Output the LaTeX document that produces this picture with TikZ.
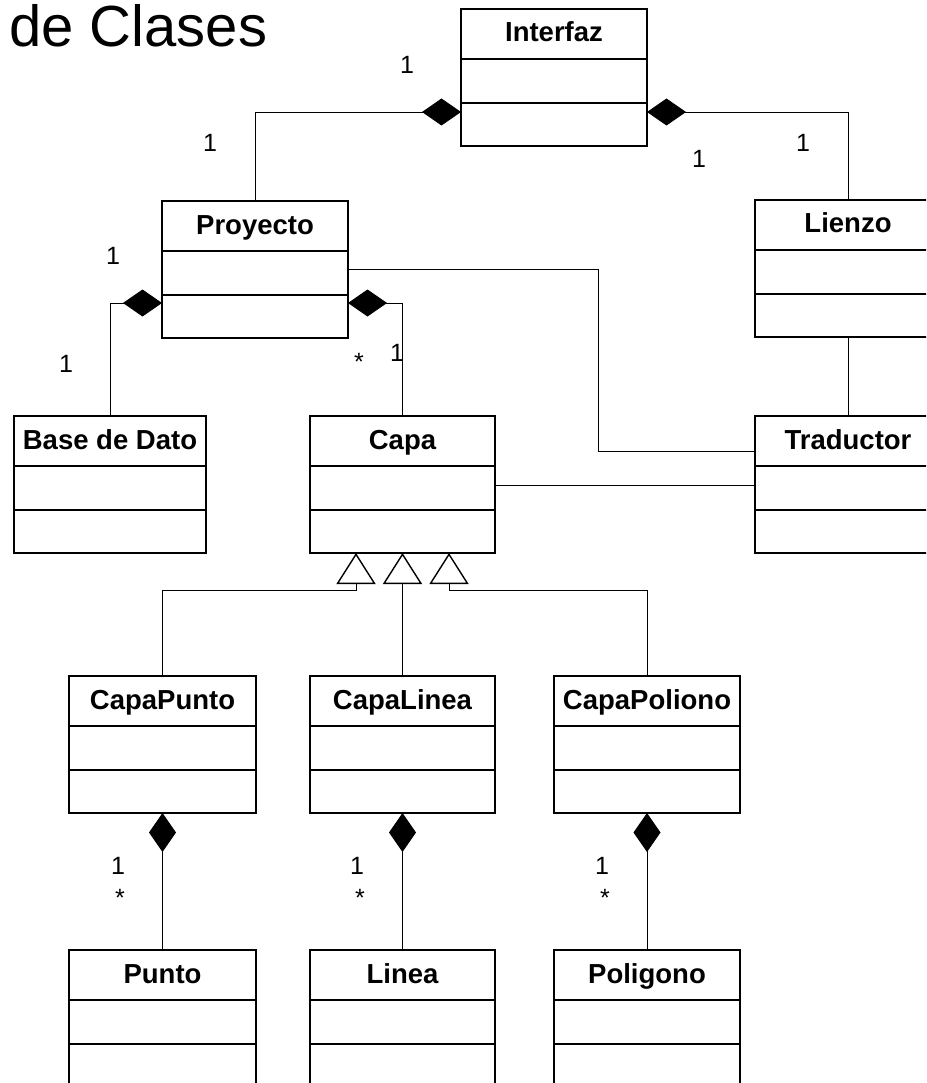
\documentclass[tikz,border=0pt]{standalone}
\usepackage{fontspec}
\setmainfont{Liberation Sans}
\usetikzlibrary{arrows.meta,calc}
\tikzset{
  box/.style={draw, line width=2pt, outer sep=0pt, inner sep=0pt, minimum height=137pt, anchor=north west, fill=white},
  divider/.style={line width=2pt},
  ctitle/.style={font=\fontsize{27.5}{30}\selectfont\bfseries, anchor=base, inner sep=0pt},
  mult/.style={font=\fontsize{25}{27}\selectfont, anchor=base, inner sep=0pt},
  conn/.style={line width=0.9pt},
  comp/.style={conn, {Diamond[fill=black, length=39pt, width=27pt, line width=0.9pt]}-},
  gen/.style={conn, -{Triangle[open, fill=white, length=31pt, width=39pt, line width=1.4pt]}},
}
\newcommand{\umlclass}[5]{%
  \node[box, minimum width=#4pt] (#1) at (#2,#3) {};
  \draw[divider] ([yshift=-50pt]#1.north west) -- ([yshift=-50pt]#1.north east);
  \draw[divider] ([yshift=-94pt]#1.north west) -- ([yshift=-94pt]#1.north east);
  \node[ctitle] (#1-name) at ([yshift=-33pt]#1.north) {#5};
}
\begin{document}
\begin{tikzpicture}[x=1pt,y=-1pt]
\useasboundingbox (0,0) rectangle (926,1083);
\clip (0,0) rectangle (926,1083);

\node[anchor=base west, inner sep=0pt, font=\fontsize{58}{62}\selectfont] (title) at (9,47) {de Clases};

% classes
\umlclass{interfaz}{461}{9}{186}{Interfaz}
\umlclass{proy}{162}{201}{186}{Proyecto}
\umlclass{lienzo}{755}{200}{186}{Lienzo}
\umlclass{base}{14}{416}{192}{Base de Dato}
\umlclass{capa}{310}{416}{185}{Capa}
\umlclass{trad}{755}{416}{186}{Traductor}
\umlclass{cpunto}{69}{676}{187}{CapaPunto}
\umlclass{clinea}{310}{676}{185}{CapaLinea}
\umlclass{cpoli}{554}{676}{186}{CapaPoliono}
\umlclass{punto}{69}{950}{187}{Punto}
\umlclass{linea}{310}{950}{185}{Linea}
\umlclass{poli}{554}{950}{186}{Poligono}

% compositions
\draw[comp] ([yshift=-103pt]interfaz.north west) -| (proy.north);
\draw[comp] ([yshift=-103pt]interfaz.north east) -| (lienzo.north);
\draw[comp] ([yshift=-102pt]proy.north west) -| (base.north);
\draw[comp] ([yshift=-102pt]proy.north east) -| (capa.north);
\draw[comp] (cpunto.south) -- (punto.north);
\draw[comp] (clinea.south) -- (linea.north);
\draw[comp] (cpoli.south) -- (poli.north);

% associations
\coordinate (tb) at (598,451);
\draw[conn] ([yshift=-68pt]proy.north east) -| (tb) -- (tb -| trad.west);
\draw[conn] ([yshift=-69pt]capa.north east) -- ([yshift=-69pt]trad.north west);
\draw[conn] (lienzo.south) -- (trad.north);

% generalizations
\coordinate (g1) at (356,590);
\coordinate (g3) at (449,590);
\draw[gen] (cpunto.north) |- (g1) -- (g1 |- capa.south);
\draw[gen] (clinea.north) -- (capa.south);
\draw[gen] (cpoli.north) |- (g3) -- (g3 |- capa.south);

% multiplicities
\node[mult] (m1) at (407,74) {1};
\node[mult] (m2) at (210,152) {1};
\node[mult] (m3) at (699,168) {1};
\node[mult] (m4) at (803,152) {1};
\node[mult] (m5) at (113,264) {1};
\node[mult] (m6) at (66,372) {1};
\node[mult] (m7) at (359,370) {*};
\node[mult] (m8) at (397,361) {1};
\node[mult] (m9) at (118,874) {1};
\node[mult] (m10) at (120,906) {*};
\node[mult] (m11) at (357,874) {1};
\node[mult] (m12) at (360,906) {*};
\node[mult] (m13) at (602,874) {1};
\node[mult] (m14) at (605,906) {*};
\end{tikzpicture}
\end{document}
